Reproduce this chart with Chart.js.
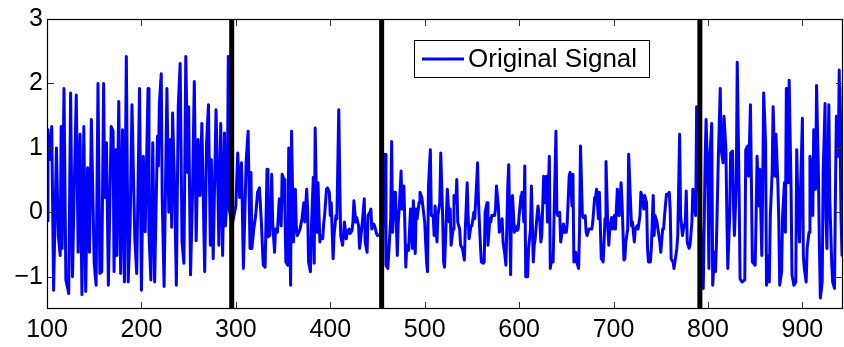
<!DOCTYPE html>
<html>
<head>
<meta charset="utf-8">
<script src="https://cdn.jsdelivr.net/npm/chart.js@4"></script>
<style>
  html, body { margin: 0; padding: 0; background: #fff; }
  #wrap { width: 844px; height: 347px; }
</style>
</head>
<body>
<div id="wrap"><canvas id="sigChart"></canvas></div>
<script>
// signal samples (x, y)
var sigX = [100,101,103,105,107,110,112,114,115,116,118,120,123,125,127,129,131,133,135,137,139,141,143,145,147,150,152,154,156,158,160,161,163,165,168,170,171,173,174,176,178,180,182,184,186,188,190,193,195,198,200,202,204,207,208,210,212,214,217,218,219,221,222,224,227,229,231,232,233,235,237,239,241,243,245,247,249,250,252,254,256,258,260,262,264,267,269,271,273,274,276,279,281,282,284,286,288,289,291,292,293,296,300,302,304,306,308,311,313,315,316,317,319,321,323,325,327,329,331,333,334,336,338,339,341,342,344,345,346,348,349,351,352,353,355,356,358,359,361,363,364,365,368,370,372,373,375,376,377,379,380,382,383,384,386,387,389,390,392,393,394,396,397,399,400,401,403,404,406,407,409,410,411,413,414,415,417,418,420,421,423,424,425,427,428,430,431,432,434,436,437,439,440,442,443,444,446,447,449,450,453,456,458,459,461,464,465,466,468,469,471,472,473,475,476,478,480,481,483,484,485,487,488,490,491,492,494,495,497,498,500,502,503,504,506,507,509,510,511,513,514,516,517,519,520,521,523,524,526,527,528,530,531,533,534,535,537,538,540,542,543,545,546,547,549,550,552,553,555,556,557,559,560,562,563,564,566,567,569,570,571,574,575,576,578,579,581,582,583,585,586,588,589,591,592,593,595,596,598,599,600,602,603,605,606,607,609,610,612,613,615,616,617,619,620,622,623,624,626,627,629,630,632,633,634,636,639,640,641,643,644,646,647,648,650,651,653,654,656,657,658,660,661,663,664,665,667,668,670,671,672,674,677,678,680,681,682,684,685,687,688,689,691,692,694,695,696,698,699,701,702,704,705,706,708,709,711,712,713,715,716,718,719,720,722,723,725,726,728,729,730,732,733,735,736,737,739,740,742,743,744,746,747,749,750,752,753,754,756,757,759,760,761,763,764,766,767,768,770,771,773,774,776,777,778,780,781,783,784,785,787,788,791,795,797,798,800,801,802,804,805,807,808,809,811,813,814,816,817,819,820,821,823,824,826,827,828,830,831,833,834,836,839,840,842,843,845,846,847,850,851,852,854,855,857,858,859,861,862,864,865,866,868,869,871,872,874,875,876,878,879,881,882,883,885,886,888,889,891,893,894,895,897,898,900,901,902,904,905,907,908,910,911,912,914,915,917,918,919,921,922,924,925,926,928,929,931,932,934,935,936,938,939,941,942,943];
var sigY = [-0.13,1.28,0.82,1.33,-1.21,1.00,-0.36,-0.67,1.33,-0.56,1.92,-1.05,-1.26,1.85,-1.00,0.51,1.82,-0.62,1.21,-1.28,1.33,-1.23,0.69,-0.62,1.44,-0.79,-1.13,2.00,-0.95,-0.92,2.00,0.23,1.08,-1.13,1.33,1.26,-0.92,0.97,-0.67,1.72,-0.95,1.28,-1.08,2.42,-1.08,-0.21,1.67,-0.41,-0.95,1.92,-1.21,0.87,-0.30,1.92,-0.33,-1.05,1.08,-1.08,1.18,0.72,1.69,2.15,0.23,-1.15,1.92,0.00,1.13,-0.23,1.54,0.46,-1.13,1.64,2.31,-0.46,-0.79,2.42,0.62,1.64,-0.97,0.21,2.03,-0.44,1.13,0.26,1.38,-0.92,1.08,1.67,-0.51,0.82,-0.72,1.59,0.36,-0.51,1.38,-0.67,1.23,-0.21,0.36,2.42,0.05,-0.20,0.10,0.92,0.23,0.77,-0.87,0.82,1.26,-0.56,0.62,-0.56,-0.26,-0.05,0.31,0.38,-0.15,-0.82,-0.85,0.67,-0.38,-0.36,0.59,-0.15,-0.62,-0.26,-0.31,-0.05,0.21,-0.21,0.59,0.51,0.00,-0.77,-0.82,1.00,-1.13,1.26,-0.46,0.36,-0.21,-0.36,-0.26,-0.10,0.15,-0.15,0.36,0.05,-0.77,-0.92,-0.26,0.54,-0.79,1.31,-0.31,0.46,-0.46,-0.36,-0.41,-0.18,-0.05,0.36,0.38,0.31,-0.05,0.15,-0.72,-0.36,-0.05,-0.10,1.59,0.56,-0.36,-0.51,-0.36,-0.15,-0.41,-0.31,-0.26,-0.33,-0.28,-0.15,0.18,-0.15,-0.08,-0.21,-0.56,-0.44,-0.15,0.21,-0.46,-0.62,-0.05,0.00,0.05,-0.26,-0.18,-0.21,-0.33,-0.36,-0.35,-0.20,0.90,-0.82,-0.87,-0.10,1.10,-0.31,0.31,0.31,-0.67,-0.15,0.05,0.64,0.05,0.41,-0.85,-0.51,-0.59,-0.26,0.05,-0.56,0.18,-0.64,0.05,-0.10,0.15,0.31,0.23,0.10,-0.15,-0.77,-0.92,0.41,0.97,-0.05,-0.05,-0.36,0.10,-0.46,-0.05,0.15,0.92,-0.05,-0.77,-0.85,-0.05,0.36,-0.15,0.05,-0.51,-0.26,0.26,0.15,0.51,-0.15,-0.26,-0.51,-0.56,-0.74,-0.26,0.46,-0.05,-0.41,-0.21,-0.21,0.00,-0.10,0.46,0.77,0.15,-0.51,-0.77,-0.79,-0.77,0.00,0.15,-0.51,-0.10,-0.15,-0.05,-0.05,0.05,0.41,0.10,-0.31,-0.21,-0.10,-0.46,-0.67,-0.82,0.41,0.74,-0.97,0.23,0.26,-0.31,-0.21,-0.28,-0.26,-0.05,0.26,0.31,-0.15,0.72,-1.00,-1.00,-0.56,-0.26,0.41,-0.77,-0.51,-0.41,-0.05,0.10,-0.15,-0.46,-0.36,0.56,0.15,0.56,-0.15,0.87,-0.87,-0.77,-0.77,1.26,0.00,-0.05,0.00,-0.46,-0.26,-0.18,-0.31,-0.31,-0.15,0.56,0.62,0.10,0.59,-0.77,-0.62,-0.77,-0.87,-0.26,1.03,-0.05,-0.08,-0.05,-0.31,-0.36,-0.26,-0.26,-0.15,0.23,0.23,0.36,-0.10,0.31,-0.72,-0.74,-0.77,-0.10,0.79,-0.26,-0.51,-0.26,-0.08,-0.26,-0.05,-0.26,0.36,0.26,-0.05,0.46,0.15,-0.74,-0.72,-0.46,-0.26,0.90,0.15,-0.21,-0.15,-0.46,-0.26,-0.21,-0.26,-0.05,0.31,0.26,0.05,0.26,0.15,-0.56,-0.77,-0.77,-0.56,0.26,-0.36,-0.05,-0.15,-0.26,-0.46,-0.62,-0.26,-0.26,-0.05,0.28,0.26,0.31,0.05,-0.72,-0.77,-0.87,-0.67,-0.56,-0.36,1.21,-0.05,-0.36,-0.26,-0.15,0.33,-0.46,-0.56,-0.51,-0.15,0.36,0.15,-0.05,1.64,0.20,-1.18,0.82,1.44,0.36,-0.87,0.87,1.38,-1.13,-0.62,-0.92,-0.46,0.87,1.92,0.97,0.77,1.49,0.97,-0.05,-0.87,-0.05,0.92,0.95,0.15,-0.36,0.46,2.33,0.31,-1.03,-1.08,-1.05,0.97,1.03,0.56,1.67,0.46,-0.77,-0.82,-0.05,0.87,0.10,0.67,-0.67,0.46,1.85,1.08,-1.13,-0.67,-1.08,-0.05,0.62,1.64,0.56,1.21,0.46,-0.15,-1.13,-0.92,-0.05,0.46,-0.31,1.92,0.46,2.05,0.36,-0.97,-1.13,-1.08,0.97,0.31,-0.46,0.31,1.46,-0.67,-0.87,-1.08,-0.56,-0.31,0.87,0.62,-0.05,1.28,0.36,1.97,0.56,-0.51,-1.33,-1.08,0.62,1.69,-0.05,-0.56,1.67,0.21,-0.77,-1.08,-1.18,0.31,1.49,0.87,2.21,-0.15,-0.67,1.95];

// segment boundaries (thick black verticals)
var splitX = [295.6, 454.4, 791.4];

var xTicks = [100, 200, 300, 400, 500, 600, 700, 800, 900];
var yTicks = [-1, 0, 1, 2, 3];
var xMin = 100, xMax = 943, yMin = -1.5, yMax = 3;

var sigPoints = sigX.map(function (x, i) { return { x: x, y: sigY[i] }; });

var datasets = [{
    label: 'Original Signal',
    data: sigPoints,
    borderColor: '#0000ff',
    borderWidth: 3,
    borderJoinStyle: 'round',
    borderCapStyle: 'round',
    pointRadius: 0,
    tension: 0,
    order: 1
}];
splitX.forEach(function (sx) {
    datasets.push({
        label: 'split',
        data: [{ x: sx, y: yMin }, { x: sx, y: yMax }],
        borderColor: '#000000',
        borderWidth: 5,
        pointRadius: 0,
        order: 0
    });
});

function minusLabel(v) {
    return v < 0 ? '\u2212' + Math.abs(v) : String(v);
}

// frame, inward tick marks and the boxed legend, MATLAB style
var matlabBits = {
    id: 'matlabBits',
    afterDatasetsDraw: function (chart) {
        var c = chart.ctx, a = chart.chartArea;
        var sx = chart.scales.x, sy = chart.scales.y;
        c.save();
        c.strokeStyle = '#333';
        c.lineWidth = 1;
        c.beginPath();
        xTicks.forEach(function (t) {
            var px = Math.round(sx.getPixelForValue(t)) + 0.5;
            c.moveTo(px, a.bottom); c.lineTo(px, a.bottom - 7);
            c.moveTo(px, a.top); c.lineTo(px, a.top + 7);
        });
        yTicks.forEach(function (t) {
            var py = Math.round(sy.getPixelForValue(t)) + 0.5;
            c.moveTo(a.left, py); c.lineTo(a.left + 7, py);
            c.moveTo(a.right, py); c.lineTo(a.right - 7, py);
        });
        c.stroke();

        c.strokeStyle = '#000';
        c.lineWidth = 1.2;
        c.strokeRect(a.left + 0.5, a.top + 0.5, a.right - a.left - 1, a.bottom - a.top - 1);

        // legend
        var lx = 414.5, ly = 40.5, lw = 235, lh = 37;
        c.fillStyle = '#fff';
        c.fillRect(lx, ly, lw, lh);
        c.strokeStyle = '#000';
        c.lineWidth = 1;
        c.strokeRect(lx, ly, lw, lh);
        c.strokeStyle = '#0000ff';
        c.lineWidth = 3;
        c.beginPath();
        c.moveTo(422, ly + lh / 2);
        c.lineTo(464, ly + lh / 2);
        c.stroke();
        c.fillStyle = '#000';
        c.font = '26px "Liberation Sans", Arial, sans-serif';
        c.textBaseline = 'middle';
        c.textAlign = 'left';
        c.fillText('Original Signal', 468, ly + lh / 2 + 1);
        c.restore();
    }
};

var ctx = document.getElementById('sigChart');
var sigChart = new Chart(ctx, {
    type: 'line',
    data: { datasets: datasets },
    options: {
        responsive: true,
        maintainAspectRatio: false,
        animation: false,
        layout: { padding: { top: 17, right: 1, left: 0, bottom: 0 } },
        plugins: {
            legend: { display: false },
            tooltip: { enabled: false }
        },
        scales: {
            x: {
                type: 'linear',
                min: xMin,
                max: xMax,
                afterBuildTicks: function (s) { s.ticks = xTicks.map(function (v) { return { value: v }; }); },
                afterFit: function (s) { s.height = 38; },
                grid: { display: false, drawTicks: false },
                border: { display: false },
                ticks: {
                    color: '#000',
                    padding: 6,
                    maxRotation: 0,
                    font: { family: '"Liberation Sans", Arial, sans-serif', size: 25 }
                }
            },
            y: {
                type: 'linear',
                min: yMin,
                max: yMax,
                afterBuildTicks: function (s) { s.ticks = yTicks.map(function (v) { return { value: v }; }); },
                afterFit: function (s) { s.width = 47; },
                grid: { display: false, drawTicks: false },
                border: { display: false },
                ticks: {
                    color: '#000',
                    padding: 4,
                    callback: minusLabel,
                    font: { family: '"Liberation Sans", Arial, sans-serif', size: 25 }
                }
            }
        }
    },
    plugins: [matlabBits]
});
</script>
</body>
</html>
